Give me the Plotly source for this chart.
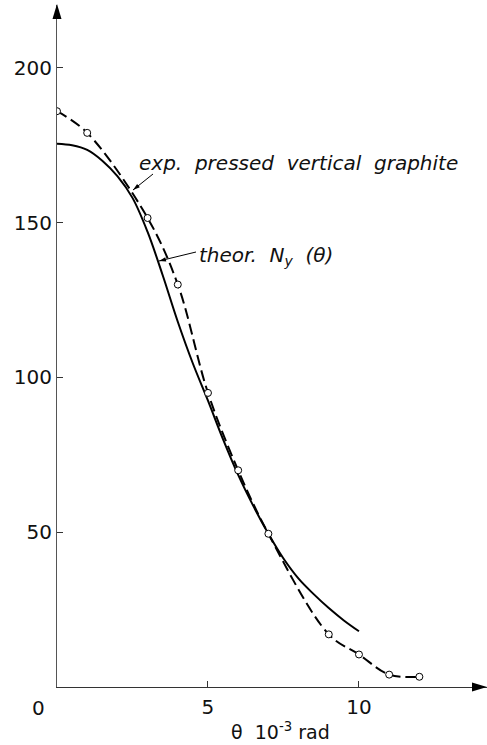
import plotly.graph_objects as go

# experimental points: pressed vertical graphite
exp_theta = [0, 1, 3, 4, 5, 6, 7, 9, 10, 11, 12]
exp_n = [186, 179, 151.5, 130, 95, 70, 49.5, 17, 10.5, 4, 3.3]

# theoretical curve N_y(theta)
th_theta = [0, 0.5, 1, 1.5, 2, 2.5, 3, 3.5, 4, 4.5, 5, 5.5, 6, 6.5, 7, 7.5, 8, 8.5, 9, 9.5, 10]
th_n = [175.5, 175, 173.5, 170, 165, 158, 147, 133, 118, 104.5, 92.5, 80, 68.5, 58.5, 49.5, 41.5, 35, 30, 25.5, 21.5, 18]

x_ticks = [5, 10]
y_ticks = [50, 100, 150, 200]

W, H = 487, 745
L, R, T, B = 57, 0, 5, 58
PW, PH = W - L - R, H - T - B


def px(xp):
    return (xp - L) / PW


def py(yp):
    return (H - B - yp) / PH


fig = go.Figure()
fig.add_trace(go.Scatter(
    x=th_theta, y=th_n, mode="lines", line=dict(color="black", width=2, shape="spline"),
    showlegend=False, hoverinfo="skip"))
fig.add_trace(go.Scatter(
    x=exp_theta, y=exp_n, mode="lines+markers",
    line=dict(color="black", width=2, dash="11px,5px", shape="spline"),
    marker=dict(symbol="circle", size=7, color="white", line=dict(color="black", width=1)),
    showlegend=False, hoverinfo="skip"))

font = dict(family="DejaVu Sans", size=20, color="#111")

fig.update_layout(
    width=W, height=H,
    margin=dict(l=L, r=R, t=T, b=B),
    paper_bgcolor="white", plot_bgcolor="white",
    xaxis=dict(range=[0, 14.24], tickvals=x_ticks, ticks="inside", ticklen=6,
               tickcolor="#333", showline=True, linecolor="#333", linewidth=1,
               showgrid=False, zeroline=False, tickfont=font, ticklabelstandoff=2),
    yaxis=dict(range=[0, 220.3], tickvals=y_ticks, ticks="inside", ticklen=6,
               tickcolor="#333", showline=True, linecolor="#555", linewidth=1,
               showgrid=False, zeroline=False, tickfont=font, ticklabelstandoff=0),
)


def tri(tip, base_c, half):
    # triangle path in paper coordinates from pixel points
    (tx, ty), (bx, by) = tip, base_c
    dx, dy = tx - bx, ty - by
    n = (dx * dx + dy * dy) ** 0.5
    ux, uy = -dy / n * half, dx / n * half
    pts = [(tx, ty), (bx + ux, by + uy), (bx - ux, by - uy)]
    return "M " + " L ".join(f"{px(a):.5f},{py(b):.5f}" for a, b in pts) + " Z"


shapes = []
# axis arrowheads
shapes.append(dict(type="path", xref="paper", yref="paper",
                   path=tri((57, 4), (57, 19), 4.5), fillcolor="black", line=dict(width=0)))
shapes.append(dict(type="path", xref="paper", yref="paper",
                   path=tri((487, 687), (472, 687), 4.5), fillcolor="black", line=dict(width=0)))
# leader lines
for (x0, y0), (x1, y1) in [((153, 174), (133, 190)), ((196, 252), (159, 261))]:
    d = ((x0 - x1) ** 2 + (y0 - y1) ** 2) ** 0.5
    shapes.append(dict(type="line", xref="paper", yref="paper",
                       x0=px(x0), y0=py(y0), x1=px(x1), y1=py(y1),
                       line=dict(color="black", width=1)))
    shapes.append(dict(type="path", xref="paper", yref="paper",
                       path=tri((x1, y1), (x1 + (x0 - x1) * 7 / d, y1 + (y0 - y1) * 7 / d), 2.2),
                       fillcolor="black", line=dict(width=0)))
fig.update_layout(shapes=shapes)

lab_font = dict(family="DejaVu Sans", size=20, color="#111")
ann = []
ann.append(dict(xref="paper", yref="paper", x=px(38), y=py(708),
                text="0", showarrow=False, font=font, xanchor="center", yanchor="middle"))
# axis title
ann.append(dict(xref="paper", yref="paper", x=px(280), y=py(731),
                text="θ  10<sup>-3</sup> rad", showarrow=False,
                font=dict(family="DejaVu Sans", size=19, color="#111"),
                xanchor="center", yanchor="middle"))
# curve labels
ann.append(dict(xref="paper", yref="paper", x=px(137), y=py(163),
                text="<i>exp.  pressed  vertical  graphite</i>", showarrow=False,
                font=lab_font, xanchor="left", yanchor="middle"))
ann.append(dict(xref="paper", yref="paper", x=px(197), y=py(256),
                text="<i>theor.  N<sub>y</sub>  (θ)</i>", showarrow=False,
                font=lab_font, xanchor="left", yanchor="middle"))
fig.update_layout(annotations=ann)

fig.write_html("out.html")
